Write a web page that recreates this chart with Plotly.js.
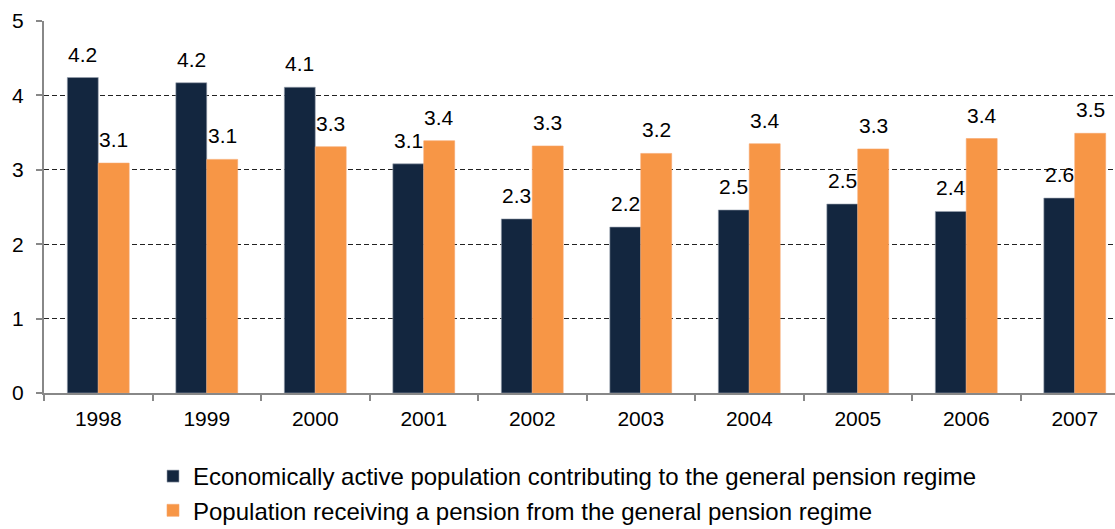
<!DOCTYPE html>
<html>
<head>
<meta charset="utf-8">
<script src="https://cdn.plot.ly/plotly-3.0.1.min.js"></script>
<style>
html,body{margin:0;padding:0;background:#fff;}
#chart{width:1115px;height:529px;}
</style>
</head>
<body>
<div id="chart"></div>
<script>
const years = ['1998','1999','2000','2001','2002','2003','2004','2005','2006','2007'];
const contributors = [4.24, 4.17, 4.11, 3.08, 2.34, 2.23, 2.46, 2.54, 2.44, 2.62];
const pensioners = [3.09, 3.14, 3.31, 3.39, 3.32, 3.22, 3.35, 3.28, 3.42, 3.49];
const seriesNames = [
  'Economically active population contributing to the general pension regime',
  'Population receiving a pension from the general pension regime'
];
const colors = ['#13263f', '#f79646'];

const W = 1115, H = 529;
const margin = {l: 44, r: 0, t: 21, b: 136, autoexpand: false};
const plotW = W - margin.l - margin.r;
// the original plot area runs a little past the right edge of the picture
const catPx = 108.5;
const xMax = -0.5 + plotW / catPx;
const bargap = 0.43;
const barW = catPx * (1 - bargap) / 2;
const FONT = 'Liberation Sans, Arial, sans-serif';

const traces = [contributors, pensioners].map((vals, i) => ({
  type: 'bar',
  x: years,
  y: vals,
  name: seriesNames[i],
  legendgroup: 'g' + i,
  marker: {color: colors[i], line: {color: i === 0 ? '#9aa3b0' : '#f7a56a', width: 0.6}},
  hoverinfo: 'x+y'
}));

const annotations = [];
[contributors, pensioners].forEach((vals, i) => {
  vals.forEach((v, j) => {
    annotations.push({
      x: j, y: v, xref: 'x', yref: 'y',
      text: v.toFixed(1),
      showarrow: false,
      xanchor: 'center', yanchor: 'bottom',
      xshift: (i === 0 ? -1 : 1) * barW / 2,
      yshift: 10,
      font: {family: FONT, size: 21, color: '#000'}
    });
  });
});

const layout = {
  width: W, height: H,
  margin: margin,
  paper_bgcolor: '#fff', plot_bgcolor: '#fff',
  barmode: 'group',
  bargap: bargap,
  bargroupgap: 0,
  showlegend: true,
  legend: {
    orientation: 'v',
    traceorder: 'grouped',
    tracegroupgap: 0,
    xref: 'container', yref: 'container',
    x: 153 / W, xanchor: 'left',
    y: (H - 454) / H, yanchor: 'top',
    font: {family: FONT, size: 24, color: '#000'},
    bgcolor: 'rgba(0,0,0,0)',
    itemwidth: 30
  },
  xaxis: {
    type: 'category',
    range: [-0.5, xMax],
    showgrid: false,
    showline: true, linecolor: '#888', linewidth: 2,
    ticks: 'outside', tickson: 'boundaries', ticklen: 6, tickcolor: '#888', tickwidth: 2,
    tickfont: {family: FONT, size: 21, color: '#000'},
    ticklabelstandoff: 6,
    tickangle: 0,
    zeroline: false,
    fixedrange: true
  },
  yaxis: {
    range: [0, 5],
    tickvals: [0, 1, 2, 3, 4, 5],
    showline: true, linecolor: '#888', linewidth: 2,
    ticks: 'outside', ticklen: 6, tickcolor: '#888', tickwidth: 2,
    showgrid: true, gridcolor: '#222', gridwidth: 1, griddash: '5px,3px',
    zeroline: false,
    tickfont: {family: FONT, size: 21, color: '#000'},
    ticklabelstandoff: 8,
    fixedrange: true
  },
  annotations: annotations
};

Plotly.newPlot('chart', traces, layout, {displayModeBar: false, staticPlot: true});
</script>
</body>
</html>
